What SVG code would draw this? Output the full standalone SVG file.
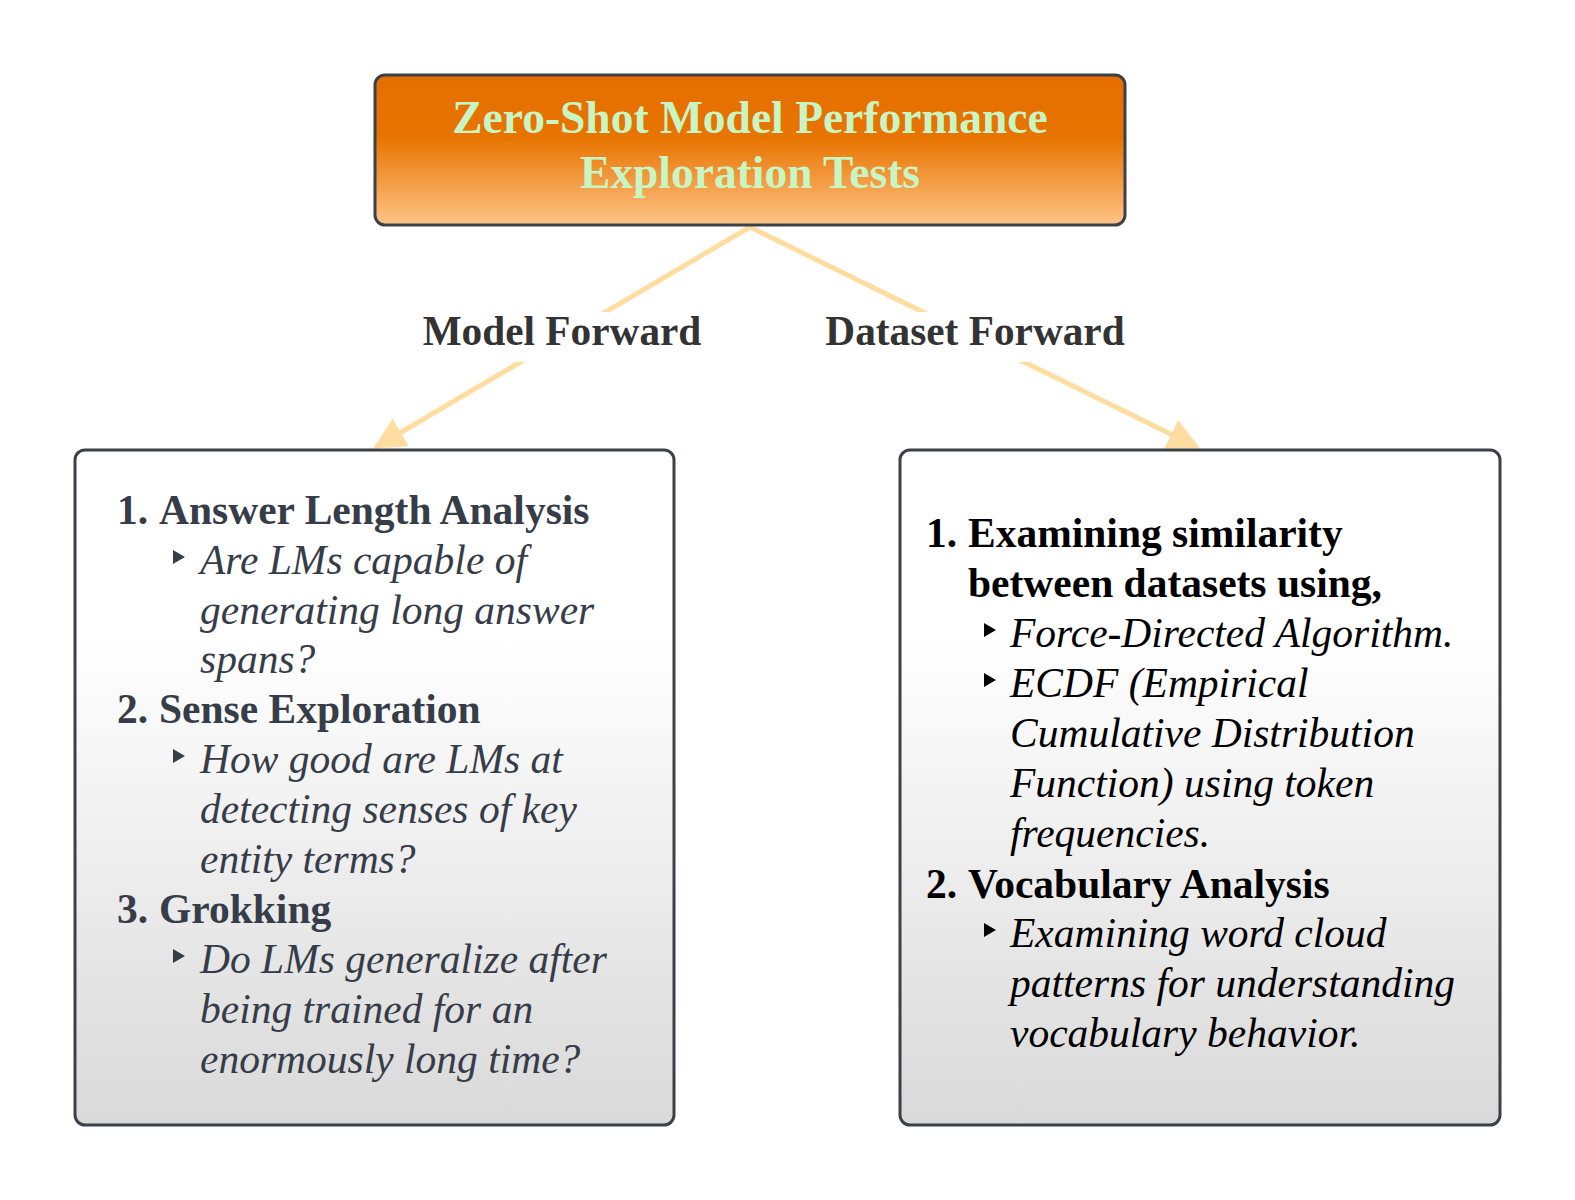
<svg xmlns="http://www.w3.org/2000/svg" width="1575" height="1200" viewBox="0 0 1575 1200">
  <defs>
    <linearGradient id="titleFill" x1="0" y1="0" x2="0" y2="1">
      <stop offset="0" stop-color="#e56e00"/>
      <stop offset="0.42" stop-color="#e87400"/>
      <stop offset="1" stop-color="#ffc487"/>
    </linearGradient>
    <linearGradient id="cardFill" x1="0" y1="0" x2="0" y2="1">
      <stop offset="0" stop-color="#ffffff"/>
      <stop offset="0.28" stop-color="#ffffff"/>
      <stop offset="1" stop-color="#d9d9d9"/>
    </linearGradient>
    <marker id="arrow" viewBox="0 0 10 10" refX="9" refY="5" markerWidth="6.4" markerHeight="6.4" orient="auto" markerUnits="strokeWidth">
      <path d="M0,0 L10,5 L0,10 z" fill="#ffdca0"/>
    </marker>
    <path id="tri" d="M0,-7 L12,0 L0,7 z"/>
  </defs>
  <style>
    .box { stroke: #3b4049; stroke-width: 3; }
    .edge { stroke: #ffdca0; stroke-width: 5; fill: none; }
    .title { font-family: "Liberation Serif", serif; font-weight: bold; font-size: 45.5px; fill: #c8f5c4; text-anchor: middle; }
    .label { font-family: "Liberation Serif", serif; font-weight: bold; font-size: 41.3px; fill: #333333; text-anchor: middle; }
    .head { font-family: "Liberation Serif", serif; font-weight: bold; font-size: 41.5px; }
    .sub { font-family: "Liberation Serif", serif; font-style: italic; font-size: 41.5px; }
    .dark { fill: #363c48; }
    .black { fill: #000000; }
  </style>

  <rect width="1575" height="1200" fill="#ffffff"/>

  <!-- connectors with their labels -->
  <g id="connectors">
    <line class="edge" x1="750" y1="227" x2="376" y2="447" marker-end="url(#arrow)"/>
    <line class="edge" x1="750" y1="227" x2="1197" y2="447" marker-end="url(#arrow)"/>
    <rect x="417" y="312" width="292" height="50" fill="#ffffff"/>
    <rect x="818" y="312" width="316" height="50" fill="#ffffff"/>
    <text class="label" x="562" y="345">Model Forward</text>
    <text class="label" x="975" y="345">Dataset Forward</text>
  </g>

  <!-- root node -->
  <g id="root">
    <rect class="box" x="375" y="75" width="750" height="150" rx="10" fill="url(#titleFill)"/>
    <text class="title" x="750" y="133">Zero-Shot Model Performance</text>
    <text class="title" x="750" y="188">Exploration Tests</text>
  </g>

  <!-- model-forward tests -->
  <g id="model-tests">
    <rect class="box" x="75" y="450" width="599" height="675" rx="10" fill="url(#cardFill)"/>
    <g class="dark">
      <text class="head" x="117" y="524">1.</text>
      <text class="head" x="159" y="524">Answer Length Analysis</text>
      <use href="#tri" x="173" y="557"/>
      <text class="sub" x="200" y="574">Are LMs capable of</text>
      <text class="sub" x="200" y="624">generating long answer</text>
      <text class="sub" x="200" y="673">spans?</text>
      <text class="head" x="117" y="723">2.</text>
      <text class="head" x="159" y="723">Sense Exploration</text>
      <use href="#tri" x="173" y="756"/>
      <text class="sub" x="200" y="773">How good are LMs at</text>
      <text class="sub" x="200" y="823">detecting senses of key</text>
      <text class="sub" x="200" y="873">entity terms?</text>
      <text class="head" x="117" y="923">3.</text>
      <text class="head" x="159" y="923">Grokking</text>
      <use href="#tri" x="173" y="956"/>
      <text class="sub" x="200" y="973">Do LMs generalize after</text>
      <text class="sub" x="200" y="1023">being trained for an</text>
      <text class="sub" x="200" y="1073">enormously long time?</text>
    </g>
  </g>

  <!-- dataset-forward tests -->
  <g id="dataset-tests">
    <rect class="box" x="900" y="450" width="600" height="675" rx="10" fill="url(#cardFill)"/>
    <g class="black">
      <text class="head" x="926" y="547">1.</text>
      <text class="head" x="968" y="547">Examining similarity</text>
      <text class="head" x="968" y="597">between datasets using,</text>
      <use href="#tri" x="984" y="630"/>
      <text class="sub" x="1010" y="647">Force-Directed Algorithm.</text>
      <use href="#tri" x="984" y="680"/>
      <text class="sub" x="1010" y="697">ECDF (Empirical</text>
      <text class="sub" x="1010" y="747">Cumulative Distribution</text>
      <text class="sub" x="1010" y="797">Function) using token</text>
      <text class="sub" x="1010" y="847">frequencies.</text>
      <text class="head" x="926" y="898">2.</text>
      <text class="head" x="968" y="898">Vocabulary Analysis</text>
      <use href="#tri" x="984" y="930"/>
      <text class="sub" x="1010" y="947">Examining word cloud</text>
      <text class="sub" x="1010" y="997">patterns for understanding</text>
      <text class="sub" x="1010" y="1047">vocabulary behavior.</text>
    </g>
  </g>
</svg>
